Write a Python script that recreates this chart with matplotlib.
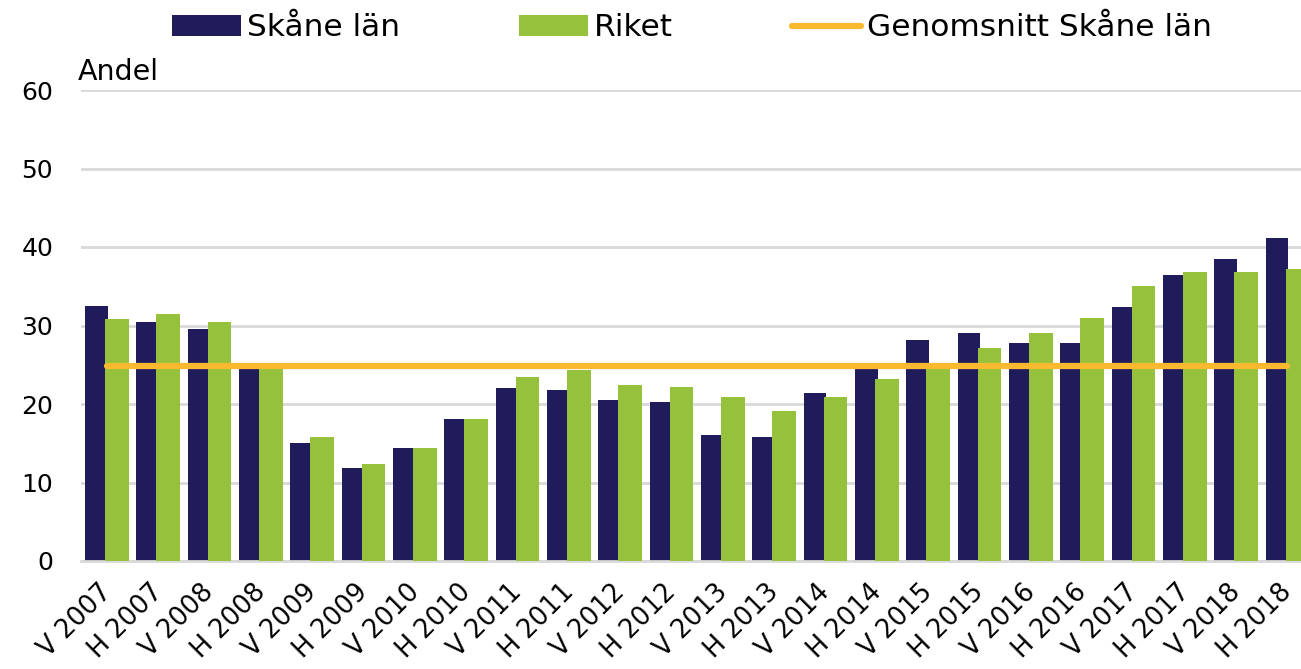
import numpy as np
import matplotlib
matplotlib.use("Agg")
import matplotlib.pyplot as plt
import matplotlib.transforms as mtransforms

# data
periods = ['V 2007', 'H 2007', 'V 2008', 'H 2008', 'V 2009', 'H 2009',
           'V 2010', 'H 2010', 'V 2011', 'H 2011', 'V 2012', 'H 2012',
           'V 2013', 'H 2013', 'V 2014', 'H 2014', 'V 2015', 'H 2015',
           'V 2016', 'H 2016', 'V 2017', 'H 2017', 'V 2018', 'H 2018']
skane = [32.5, 30.4, 29.6, 24.6, 15.0, 11.9, 14.4, 18.1, 22.0, 21.8, 20.5, 20.3,
         16.0, 15.8, 21.4, 24.6, 28.2, 29.0, 27.8, 27.8, 32.3, 36.4, 38.5, 41.1]
riket = [30.8, 31.5, 30.4, 24.9, 15.8, 12.3, 14.4, 18.1, 23.4, 24.3, 22.4, 22.2,
         20.9, 19.1, 20.9, 23.2, 24.8, 27.1, 29.0, 31.0, 35.0, 36.8, 36.8, 37.2]
avg_skane = 24.8

navy = '#201c5c'
green = '#95c13d'
orange = '#fbb930'
grid = '#d9d9d9'

fig = plt.figure(figsize=(13.01, 6.69), dpi=100)
ax = fig.add_axes([81 / 1301, 108 / 669, 1232 / 1301, 471 / 669])

x = np.arange(len(periods))
b1 = ax.bar(x - 0.2, skane, 0.44, color=navy, label='Skåne län', zorder=2)
b2 = ax.bar(x + 0.2, riket, 0.46, color=green, label='Riket', zorder=3)
l1, = ax.plot([x[0], x[-1]], [avg_skane, avg_skane], color=orange, lw=4.5,
              solid_capstyle='round', label='Genomsnitt Skåne län', zorder=4)

ax.set_xlim(-0.5, len(periods) - 0.5)
ax.set_ylim(0, 60)
ax.set_yticks(range(0, 61, 10))
ax.yaxis.grid(True, color=grid, lw=2)
ax.set_axisbelow(True)
for s in ['top', 'right', 'left']:
    ax.spines[s].set_visible(False)
ax.spines['bottom'].set_color(grid)
ax.spines['bottom'].set_linewidth(2)

ax.set_xticks(x)
ax.set_xticklabels(periods, rotation=45, ha='right', va='top',
                   rotation_mode='anchor')
ax.tick_params(axis='x', length=0, pad=13, labelsize=18.5)
ax.tick_params(axis='y', length=0, pad=20, labelsize=18)
# shift labels a little left so their ends sit at the category centre
offset = mtransforms.ScaledTranslation(-6 / 72, 0, fig.dpi_scale_trans)
for lab in ax.get_xticklabels():
    lab.set_transform(lab.get_transform() + offset)

fig.text(78 / 1301, 1 - 80 / 669, 'Andel', fontsize=20.5, va='baseline', ha='left')

fig.legend(handles=[b1, b2, l1], loc='center', bbox_to_anchor=(0.532, 1 - 28 / 669),
           ncol=3, frameon=False, fontsize=22.5, handlelength=2.2, handleheight=0.65,
           handletextpad=0.2, columnspacing=3.8, borderpad=0)

fig.savefig('out.png', dpi=100)
